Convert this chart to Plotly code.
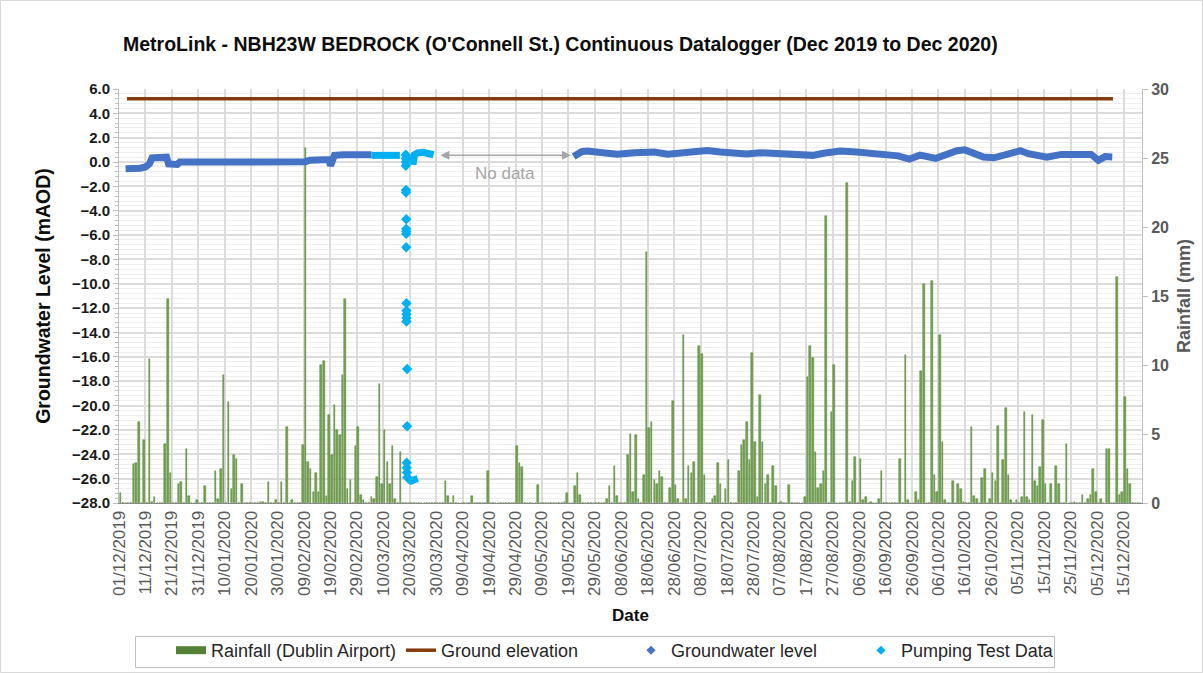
import plotly.graph_objects as go
import pandas as pd

title_text = "MetroLink - NBH23W BEDROCK (O'Connell St.) Continuous Datalogger (Dec 2019 to Dec 2020)"

# Daily rainfall at Dublin Airport (mm), one value per day starting 01/12/2019
rain_start = "2019-12-01"
rain_mm = [
    0.7, 0, 0, 0, 0, 2.8, 2.9, 5.9, 0, 4.6,
    0, 10.4, 0.1, 0.4, 0, 0, 0, 4.3, 14.8, 2.2,
    0, 0, 1.4, 1.5, 0, 3.9, 0.5, 0, 0, 0.2,
    0, 0, 1.2, 0, 0, 0, 2.3, 0.3, 2.5, 9.3,
    0, 7.3, 1.0, 3.5, 3.2, 0, 1.4, 0, 0, 0,
    0, 0, 0, 0.1, 0.1, 0, 1.5, 0, 0, 0.2,
    0, 1.5, 0, 5.5, 0, 0.2, 0, 0, 0, 4.2,
    25.7, 3.0, 2.5, 0.8, 2.2, 0.8, 10.0, 10.3, 0.5, 6.4,
    3.5, 7.1, 5.3, 4.9, 9.3, 14.8, 1.0, 1.7, 0, 4.1,
    5.5, 0.6, 0.2, 0, 0, 0.4, 0.3, 1.9, 8.6, 1.4,
    5.3, 3.0, 1.4, 4.1, 0.3, 0, 3.7, 0, 0, 0,
    0, 0, 0, 0, 0, 0, 0, 0, 0, 0,
    0, 0, 0, 1.6, 0.5, 0, 0.5, 0, 0, 0,
    0, 0, 0, 0.5, 0, 0, 0, 0, 0, 2.3,
    0, 0, 0, 0, 0, 0, 0, 0, 0, 0,
    4.1, 2.9, 2.6, 0, 0, 0, 0, 0, 1.3, 0,
    0, 0, 0, 0, 0, 0, 0, 0, 0.1, 0.7,
    0, 0, 1.2, 2.2, 0.6, 0, 0, 0, 0, 0,
    0, 0, 0, 0, 0.3, 1.2, 0, 2.7, 0.5, 0,
    0, 0, 3.5, 5.0, 0.8, 4.9, 0.3, 0, 2.0, 18.2,
    5.4, 5.9, 1.7, 1.4, 2.3, 1.9, 0, 0, 1.1, 7.4,
    1.3, 0.3, 0, 12.2, 0.3, 2.7, 2.2, 3.0, 0, 11.4,
    10.8, 2.0, 0, 0, 0.3, 0.5, 2.9, 1.4, 0, 1.0,
    3.1, 0, 0, 0, 2.3, 4.2, 4.6, 5.9, 3.1, 10.9,
    4.4, 0.4, 7.8, 4.4, 1.4, 2.0, 0, 2.7, 1.2, 0,
    0.1, 0, 0, 1.3, 0, 0, 0, 0, 0, 0.4,
    9.1, 11.4, 10.5, 3.7, 1.1, 1.4, 2.3, 20.8, 0, 6.6,
    10.0, 0, 0, 0, 0, 23.2, 0.1, 1.6, 3.3, 0,
    3.2, 0.2, 0.4, 0, 0.1, 0, 0, 0.3, 2.3, 0,
    0, 0, 0, 0, 0, 3.2, 0, 10.7, 0.2, 0,
    0, 0.8, 0.2, 9.6, 15.9, 0, 0, 16.1, 2.0, 0.8,
    12.2, 4.4, 0.2, 0, 0, 1.6, 0, 1.4, 1.0, 0.1,
    0, 0, 5.5, 0.5, 0.3, 0, 1.8, 2.5, 0, 0.3,
    2.2, 1.6, 5.6, 0, 3.1, 6.9, 2.0, 0.2, 0, 0.2,
    0, 0.4, 6.6, 0.4, 0.2, 6.4, 1.6, 1.2, 2.6, 6.0,
    1.4, 0, 1.4, 0, 2.7, 1.4, 0, 0, 4.3, 0,
    0, 0.1, 0, 0, 0.6, 0, 0.3, 0.6, 2.5, 0.8,
    0, 0.3, 0, 3.9, 3.9, 0, 0, 16.4, 0.6, 0.8,
    7.7, 2.5, 1.4, 0, 0, 0, 0,
]

# Ground elevation (mAOD)
ground_time = ["2019-12-04", "2020-12-11"]
ground_level = [5.2, 5.2]

# Groundwater level logger readings (mAOD); None marks the data gap
gw_time = [
    "2019-12-03 12:00", "2019-12-07", "2019-12-09", "2019-12-11", "2019-12-12 12:00",
    "2019-12-13 12:00", "2019-12-16", "2019-12-19", "2019-12-19 18:00", "2019-12-23",
    "2019-12-24", "2020-01-10", "2020-01-25", "2020-02-09 12:00", "2020-02-11",
    "2020-02-16", "2020-02-18 12:00", "2020-02-19", "2020-02-19 12:00", "2020-02-20 12:00",
    "2020-02-24", "2020-02-29", "2020-03-05 12:00",
    None,
    "2020-05-21", "2020-05-22", "2020-05-24", "2020-05-26", "2020-05-31",
    "2020-06-06 12:00", "2020-06-13", "2020-06-20 12:00", "2020-06-25 12:00", "2020-06-30 12:00",
    "2020-07-05 12:00", "2020-07-10 12:00", "2020-07-15 12:00", "2020-07-20 12:00", "2020-07-25 12:00",
    "2020-07-30 12:00", "2020-08-04 12:00", "2020-08-09 12:00", "2020-08-14 12:00", "2020-08-19 12:00",
    "2020-08-23 12:00", "2020-08-29 18:00", "2020-09-05", "2020-09-09 12:00", "2020-09-15",
    "2020-09-20 18:00", "2020-09-25", "2020-09-29", "2020-10-05", "2020-10-07 12:00",
    "2020-10-13", "2020-10-16", "2020-10-19", "2020-10-23", "2020-10-27",
    "2020-11-02", "2020-11-06", "2020-11-09", "2020-11-13", "2020-11-16",
    "2020-11-21 12:00", "2020-11-27", "2020-12-02 18:00", "2020-12-05 12:00", "2020-12-08",
    "2020-12-10 18:00",
]
gw_level = [
    -0.55, -0.55, -0.5, -0.4, -0.15,
    0.35, 0.42, 0.4, -0.15, -0.2,
    0.0, 0.0, 0.0, 0.02, 0.15,
    0.2, 0.2, -0.3, 0.2, 0.55,
    0.6, 0.62, 0.6,
    None,
    0.45, 0.64, 0.85, 0.9, 0.77,
    0.64, 0.77, 0.82, 0.64, 0.72,
    0.82, 0.94, 0.82, 0.72, 0.67,
    0.77, 0.72, 0.77, 0.72, 0.55,
    0.72, 0.9, 0.82, 0.75, 0.69,
    0.51, 0.25, 0.57, 0.3, 0.51,
    0.93, 1.0, 0.81, 0.41, 0.35,
    0.72, 0.93, 0.69, 0.51, 0.4,
    0.63, 0.57, 0.63, 0.15, 0.45,
    0.42,
]

# Pumping test data: continuous logger runs (None separates runs)
pump_run_time = [
    "2020-03-05 12:00", "2020-03-08", "2020-03-11", "2020-03-14", "2020-03-16 06:00",
    None,
    "2020-03-19 12:00", "2020-03-20 12:00", "2020-03-21 12:00", "2020-03-22 12:00", "2020-03-23",
    None,
    "2020-03-21", "2020-03-21 06:00", "2020-03-21 18:00", "2020-03-23", "2020-03-25",
    "2020-03-27", "2020-03-29",
]
pump_run_level = [
    0.55, 0.55, 0.6, 0.62, 0.55,
    None,
    -26.1, -26.2, -26.1, -26.1, -26.0,
    None,
    0.6, -0.2, 0.6, 0.75, 0.8,
    0.75, 0.6,
]

# Pumping test data: individual drawdown readings
pump_pt_time = [
    "2020-03-18 12:00", "2020-03-18 12:00", "2020-03-18 12:00", "2020-03-18 12:00",
    "2020-03-18 14:00", "2020-03-18 14:00", "2020-03-18 16:00", "2020-03-18 16:00",
    "2020-03-18 16:00", "2020-03-18 16:00", "2020-03-18 16:00", "2020-03-18 18:00",
    "2020-03-18 18:00", "2020-03-18 18:00", "2020-03-18 18:00", "2020-03-18 18:00",
    "2020-03-19 00:00", "2020-03-19 00:00", "2020-03-18 20:00", "2020-03-18 20:00",
    "2020-03-18 22:00", "2020-03-19 02:00",
]
pump_pt_level = [
    0.6, 0.3, 0.0, -0.3,
    -2.3, -2.5, -4.7, -5.5,
    -5.7, -5.9, -7.0, -11.6,
    -12.2, -12.5, -12.8, -13.1,
    -17.0, -21.7, -24.7, -25.1,
    -25.5, -25.9,
]

no_data_from = "2020-03-31"
no_data_to = "2020-05-20"
no_data_level = 0.55

BROWN = "#843C0C"
BLUE = "#4472C4"
CYAN = "#00B0F0"
FONT = "Liberation Sans, Arial, sans-serif"

rain_dates = pd.date_range(rain_start, periods=len(rain_mm), freq="D")

fig = go.Figure()

fig.add_trace(go.Bar(
    x=rain_dates, y=rain_mm, yaxis="y", showlegend=False,
    width=0.6 * 86400000, xperiod=86400000, xperiodalignment="middle",
    marker=dict(color="#74A552", line=dict(color="#4F7F2F", width=0.5)),
    name="Rainfall (Dublin Airport)",
))
fig.add_trace(go.Scatter(
    x=[None], y=[None], yaxis="y", mode="lines", name="Rainfall (Dublin Airport)",
    line=dict(color="#548235", width=8),
))
fig.add_trace(go.Scatter(
    x=ground_time, y=ground_level, yaxis="y2", mode="lines", name="Ground elevation",
    line=dict(color=BROWN, width=3.5),
))
fig.add_trace(go.Scatter(
    x=gw_time, y=gw_level, yaxis="y2", mode="lines", showlegend=False,
    line=dict(color=BLUE, width=7), connectgaps=False, name="Groundwater level",
))
fig.add_trace(go.Scatter(
    x=[None], y=[None], yaxis="y2", mode="markers", name="Groundwater level",
    marker=dict(symbol="diamond", size=7, color=BLUE),
))
fig.add_trace(go.Scatter(
    x=pump_run_time, y=pump_run_level, yaxis="y2", mode="lines", showlegend=False,
    line=dict(color=CYAN, width=7), connectgaps=False, name="Pumping Test Data",
))
fig.add_trace(go.Scatter(
    x=pump_pt_time, y=pump_pt_level, yaxis="y2", mode="markers", showlegend=False,
    marker=dict(symbol="diamond", size=8, color=CYAN), name="Pumping Test Data",
))
fig.add_trace(go.Scatter(
    x=[None], y=[None], yaxis="y2", mode="markers", name="Pumping Test Data",
    marker=dict(symbol="diamond", size=7, color=CYAN),
))

fig.add_annotation(
    x=no_data_to, y=no_data_level, xref="x", yref="y2",
    ax=no_data_from, ay=no_data_level, axref="x", ayref="y2",
    text="", showarrow=True, arrowhead=2, startarrowhead=2, arrowside="end+start",
    arrowsize=1.2, startarrowsize=1.2, arrowwidth=1.5, arrowcolor="#A6A6A6",
)
fig.add_annotation(
    x="2020-04-25", y=-0.95, xref="x", yref="y2", text="No data", showarrow=False,
    font=dict(family=FONT, size=17, color="#A6A6A6"),
)

L, R, T, B = 119, 61, 89, 170
W, H = 1203, 673
pw, ph = W - L - R, H - T - B


def px_x(p):
    return (p - L) / pw


def px_y(p):
    return (T + ph - p) / ph


# outer chart border
fig.add_shape(
    type="rect", xref="paper", yref="paper",
    x0=px_x(0.5), x1=px_x(W - 0.5), y0=px_y(H - 0.5), y1=px_y(0.5),
    line=dict(color="#D9D9D9", width=1), fillcolor="rgba(0,0,0,0)", layer="below",
)
# legend frame
fig.add_shape(
    type="rect", xref="paper", yref="paper",
    x0=px_x(135.5), x1=px_x(1054.5), y0=px_y(667.5), y1=px_y(636.5),
    line=dict(color="#BFBFBF", width=1), fillcolor="rgba(0,0,0,0)", layer="below",
)

fig.update_layout(
    width=W, height=H,
    margin=dict(l=L, r=R, t=T, b=B, autoexpand=False),
    paper_bgcolor="white", plot_bgcolor="white",
    font=dict(family=FONT, color="#404040"),
    title=dict(
        text=title_text, x=123 / W, xanchor="left", y=1 - 44 / H, yanchor="middle",
        font=dict(family=FONT, size=19.5, weight="bold", color="#0D0D0D"),
    ),
    xaxis=dict(
        type="date", range=["2019-12-01", "2020-12-22"],
        tick0="2019-12-01", dtick=864000000, tickformat="%d/%m/%Y", tickangle=-90,
        tickfont=dict(family=FONT, size=17, color="#595959"),
        showgrid=True, gridcolor="#DCDCDC", gridwidth=1.5,
        showline=True, linecolor="#898989", linewidth=1, ticks="", zeroline=False,
        title=dict(text="Date", font=dict(family=FONT, size=17, weight="bold", color="#0D0D0D"), standoff=14),
    ),
    yaxis=dict(
        side="right", range=[0, 30], dtick=5, showgrid=False, zeroline=False,
        showline=True, linecolor="#BFBFBF", ticks="outside", ticklen=5, tickcolor="#BFBFBF",
        tickfont=dict(family=FONT, size=16, weight="bold", color="#595959"),
        title=dict(text="Rainfall (mm)", font=dict(family=FONT, size=18, weight="bold", color="#595959"), standoff=9),
    ),
    yaxis2=dict(
        overlaying="y", side="left", range=[-28, 6], dtick=2, tickformat=".1f",
        showgrid=True, gridcolor="#DCDCDC", gridwidth=1.5, zeroline=False,
        showline=True, linecolor="#BFBFBF", ticks="outside", ticklen=5, tickcolor="#BFBFBF",
        minor=dict(dtick=0.4, ticks="outside", ticklen=3, tickcolor="#BFBFBF",
                   showgrid=True, gridcolor="#EFEFEF", gridwidth=1),
        tickfont=dict(family=FONT, size=15, weight="bold", color="#1A1A1A"),
        title=dict(text="Groundwater Level (mAOD)", font=dict(family=FONT, size=19.5, weight="bold", color="#0D0D0D"), standoff=16),
    ),
    legend=dict(
        orientation="h", x=px_x(171), xanchor="left", y=px_y(632), yanchor="top",
        borderwidth=0, bgcolor="rgba(0,0,0,0)",
        font=dict(family=FONT, size=18, color="#262626"),
        entrywidth=185, traceorder="normal",
    ),
    bargap=0,
)

fig.write_html(
    "out.html",
    config={"displayModeBar": False},
    post_script="document.body.style.margin='0';document.body.style.padding='0';",
)
